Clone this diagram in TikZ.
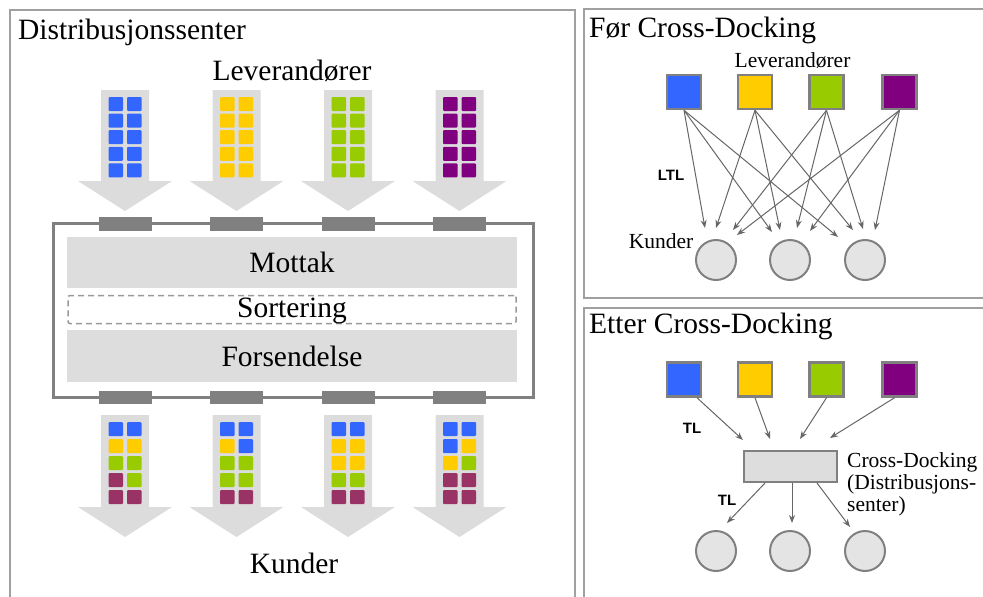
\documentclass[tikz,border=0pt]{standalone}
\usepackage{fontspec}
\setmainfont{Liberation Serif}
\newfontfamily\tagfont{Liberation Sans}
\usetikzlibrary{arrows.meta,calc}

\definecolor{cblue}{HTML}{3366FF}
\definecolor{cyellow}{HTML}{FFCC00}
\definecolor{cgreen}{HTML}{99CC00}
\definecolor{cpurple}{HTML}{800080}
\definecolor{cmaroon}{HTML}{993366}
\definecolor{flowgray}{HTML}{DCDCDC}
\definecolor{bandgray}{HTML}{DDDDDD}
\definecolor{linegray}{HTML}{808080}
\definecolor{framegray}{HTML}{A0A0A0}
\definecolor{nodefill}{HTML}{E4E4E4}
\definecolor{wiregray}{HTML}{666666}

\tikzset{
  panel/.style={draw=framegray, line width=2.5pt},
  bigtext/.style={font=\fontsize{29.5}{34}\selectfont, inner sep=0pt},
  smalltext/.style={font=\fontsize{21.5}{22}\selectfont, inner sep=0pt},
  tag/.style={font=\tagfont\bfseries\fontsize{15}{17}\selectfont, inner sep=0pt},
  band/.style={fill=bandgray, minimum width=450pt, inner sep=0pt},
  sortband/.style={draw=linegray!80, dash pattern=on 6pt off 4pt, line width=1.5pt,
    rounded corners=2pt, minimum width=448pt, minimum height=28pt, inner sep=0pt},
  supplier/.style={draw=linegray, line width=2.5pt, minimum size=34pt, inner sep=0pt},
  customer/.style={circle, draw=linegray, fill=nodefill, line width=2pt,
    minimum size=40pt, inner sep=0pt},
  hub/.style={draw=linegray, fill=bandgray, line width=2pt, minimum width=93pt,
    minimum height=31pt, inner sep=0pt},
  link/.style={draw=wiregray, line width=1pt, -{Stealth[length=8pt,width=6pt]}},
  dock/.style={fill=linegray},
}

\begin{document}
\begin{tikzpicture}[x=1pt,y=-1pt]
\useasboundingbox (0,0) rectangle (983,597);

% ---------- distribution centre ----------
\draw[panel] (10,10) rectangle (575,620);
\node[bigtext, anchor=base west] (dctitle) at (18,39) {Distribusjonssenter};
\node[bigtext, anchor=base] (dcsup) at (292,80) {Leverandører};

% inbound flows, one colour per supplier
\foreach \cx/\col in {125/cblue, 236.5/cyellow, 348/cgreen, 459.5/cpurple} {
  \fill[flowgray] ({\cx-24},90) -- ({\cx+24},90) -- ({\cx+24},181) -- ({\cx+47},181)
    -- (\cx,211) -- ({\cx-47},181) -- ({\cx-24},181) -- cycle;
  \foreach \r in {0,...,4} {
    \fill[\col, rounded corners=1pt] ({\cx-16.5},{97+\r*16.6}) rectangle ++(14.5,14);
    \fill[\col, rounded corners=1pt] ({\cx+2},{97+\r*16.6}) rectangle ++(14.5,14);
  }
}

% outbound flows, mixed loads per customer
\foreach \cx/\pat in {
  125/{cblue,cblue,cyellow,cyellow,cgreen,cgreen,cmaroon,cgreen,cmaroon,cmaroon},
  236.5/{cblue,cblue,cyellow,cblue,cgreen,cgreen,cgreen,cgreen,cmaroon,cmaroon},
  348/{cblue,cblue,cyellow,cyellow,cyellow,cyellow,cgreen,cgreen,cmaroon,cmaroon},
  459.5/{cblue,cblue,cblue,cyellow,cyellow,cgreen,cmaroon,cmaroon,cmaroon,cmaroon}} {
  \fill[flowgray] ({\cx-24},415) -- ({\cx+24},415) -- ({\cx+24},507) -- ({\cx+47},507)
    -- (\cx,537) -- ({\cx-47},507) -- ({\cx-24},507) -- cycle;
  \foreach \c [count=\i from 0] in \pat {
    \pgfmathsetmacro\row{int(\i/2)}
    \pgfmathsetmacro\side{mod(\i,2)}
    \fill[\c, rounded corners=1pt] ({\cx-16.5+\side*18.5},{422+\row*17}) rectangle ++(14.5,14);
  }
}

% building with its docks and zones
\draw[linegray, line width=3pt] (53,223.5) rectangle (533,397);
\foreach \cx in {125,236.5,348,459.5} {
  \fill[dock] ({\cx-26.5},217) rectangle ({\cx+26.5},231);
  \fill[dock] ({\cx-26.5},391) rectangle ({\cx+26.5},404);
}
\node[band, minimum height=51pt] (mottak) at (292,262.5) {};
\node[bigtext] at (mottak) {Mottak};
\node[sortband] (sort) at (292,309.5) {};
\node[bigtext] at (292,311) {Sortering};
\node[band, minimum height=52pt] (forsend) at (292,356) {};
\node[bigtext] at (forsend) {Forsendelse};
\node[bigtext, anchor=base] (dccust) at (294,573) {Kunder};

% ---------- before cross-docking ----------
\draw[panel] (584,9) rectangle (1000,298);
\node[bigtext, anchor=base west] (beforetitle) at (589,37) {Før Cross-Docking};
\node[smalltext, anchor=base] (beforesup) at (792.5,67) {Leverandører};

\node[supplier, fill=cblue]   (s1) at (684,92) {};
\node[supplier, fill=cyellow] (s2) at (755,92) {};
\node[supplier, fill=cgreen]  (s3) at (826.5,92) {};
\node[supplier, fill=cpurple] (s4) at (899.5,92) {};

\node[customer] (c1) at (716,260) {};
\node[customer] (c2) at (790,260) {};
\node[customer] (c3) at (865,260) {};
\node[smalltext, anchor=base] (beforecust) at (661,248) {Kunder};
\node[tag] (ltl) at (671,175) {LTL};

\coordinate (e11) at ($(c1)+(-11,-32)$);
\coordinate (e21) at ($(c1)+(0,-32)$);
\coordinate (e31) at ($(c1)+(17,-30)$);
\coordinate (e41) at ($(c1)+(21,-25)$);
\coordinate (e12) at ($(c2)+(-18,-28)$);
\coordinate (e22) at ($(c2)+(-10,-30)$);
\coordinate (e32) at ($(c2)+(7,-32)$);
\coordinate (e42) at ($(c2)+(20,-29)$);
\coordinate (e13) at ($(c3)+(-27,-23)$);
\coordinate (e23) at ($(c3)+(-12,-30)$);
\coordinate (e33) at ($(c3)+(-2,-31)$);
\coordinate (e43) at ($(c3)+(10,-30)$);
\foreach \s in {1,...,4}
  \foreach \k in {1,2,3}
    \draw[link] (s\s.south) -- (e\s\k);

% ---------- after cross-docking ----------
\draw[panel] (584,308) rectangle (1000,620);
\node[bigtext, anchor=base west] (aftertitle) at (589,333) {Etter Cross-Docking};

\node[supplier, fill=cblue]   (t1) at (684,379.5) {};
\node[supplier, fill=cyellow] (t2) at (755,379.5) {};
\node[supplier, fill=cgreen]  (t3) at (826.5,379.5) {};
\node[supplier, fill=cpurple] (t4) at (899.5,379.5) {};

\node[hub] (xd) at (790.5,466.5) {};
\node[smalltext, anchor=north west, align=left] (xdlabel) at (847,452)
  {Cross-Docking\\(Distribusjons-\\senter)};

\node[customer] (d1) at (716,551) {};
\node[customer] (d2) at (790,551) {};
\node[customer] (d3) at (865,551) {};

\coordinate (f1) at ($(xd.north)+(-47.5,-10)$);
\coordinate (f2) at ($(xd.north)+(-20.5,-11)$);
\coordinate (f3) at ($(xd.north)+(9.5,-11)$);
\coordinate (f4) at ($(xd.north)+(39.5,-12)$);
\draw[link] ($(t1.south)+(13,0)$) -- (f1);
\draw[link] (t2.south) -- (f2);
\draw[link] (t3.south) -- (f3);
\draw[link] ($(t4.south)+(-5,0)$) -- (f4);

\coordinate (g1) at ($(d1)+(11,-28)$);
\coordinate (g2) at ($(d2)+(2,-28)$);
\coordinate (g3) at ($(d3)+(-15,-24)$);
\draw[link] ($(xd.south)+(-25.5,0)$) -- (g1);
\draw[link] ($(xd.south)+(1.5,0)$) -- (g2);
\draw[link] ($(xd.south)+(26.5,0)$) -- (g3);

\node[tag] (tl1) at (692,428) {TL};
\node[tag] (tl2) at (727,500) {TL};
\end{tikzpicture}
\end{document}
